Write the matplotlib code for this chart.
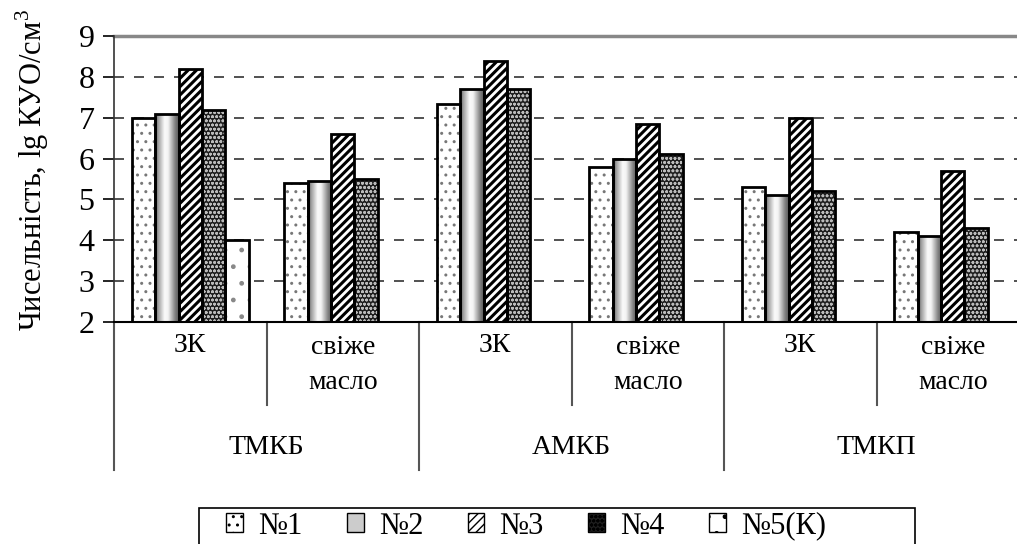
import numpy as np
import matplotlib
matplotlib.use('Agg')
import matplotlib.pyplot as plt
from matplotlib import font_manager
from matplotlib.patches import Patch, Rectangle
import matplotlib.transforms as mtransforms

# pick a Times-like serif that is actually installed
available = {f.name for f in font_manager.fontManager.ttflist}
serif = 'DejaVu Serif'
for cand in ['Times New Roman', 'Tinos', 'Liberation Serif', 'Nimbus Roman', 'FreeSerif', 'PT Serif', 'Noto Serif']:
    if cand in available:
        serif = cand
        break
plt.rcParams['font.family'] = [serif, 'DejaVu Serif']
plt.rcParams['mathtext.fontset'] = 'custom'
plt.rcParams['mathtext.rm'] = serif

# data
groups = ['ТМКБ', 'АМКБ', 'ТМКП']
subcats = ['ЗК', 'свіже\nмасло', 'ЗК', 'свіже\nмасло', 'ЗК', 'свіже\nмасло']
series_names = ['№1', '№2', '№3', '№4', '№5(К)']
s1 = [7.0, 5.4, 7.33, 5.8, 5.3, 4.2]
s2 = [7.1, 5.45, 7.7, 6.0, 5.1, 4.1]
s3 = [8.2, 6.6, 8.4, 6.85, 7.0, 5.7]
s4 = [7.2, 5.5, 7.7, 6.1, 5.2, 4.3]
s5 = [4.0, np.nan, np.nan, np.nan, np.nan, np.nan]
yticks = [2, 3, 4, 5, 6, 7, 8, 9]

W, H = 1017, 544
fig = plt.figure(figsize=(W / 100, H / 100), dpi=100)
ax_left, ax_right, ax_top, ax_bot = 114, 1029, 36, 322
ax = fig.add_axes([ax_left / W, (H - ax_bot) / H, (ax_right - ax_left) / W, (ax_bot - ax_top) / H])

x = np.arange(len(subcats))
bw = 0.153
ymin, ymax = 2, 9


def grad_image(ax, patch):
    x0, y0 = patch.get_x(), patch.get_y()
    w, h = patch.get_width(), patch.get_height()
    t = np.linspace(0, 1, 64)
    prof = np.interp(t, [0, 0.12, 0.4, 0.55, 0.85, 1], [0.35, 0.6, 0.98, 0.95, 0.5, 0.35])
    img = ax.imshow(prof[None, :], cmap='gray', vmin=0, vmax=1, aspect='auto',
                    extent=[x0, x0 + w, y0, y0 + h], zorder=2, interpolation='bilinear')
    img.set_clip_path(patch)


def draw_series(k, vals):
    vals = np.array(vals, dtype=float)
    mask = ~np.isnan(vals)
    xs = x[mask] + (k - 2) * bw
    vs = vals[mask] - ymin
    if k == 0:
        b = ax.bar(xs, vs, bw, bottom=ymin, color='white', edgecolor='#777777', hatch='..', linewidth=0, zorder=2)
    elif k == 1:
        b = ax.bar(xs, vs, bw, bottom=ymin, color='white', linewidth=0, zorder=2)
        for p in b:
            grad_image(ax, p)
    elif k == 2:
        b = ax.bar(xs, vs, bw, bottom=ymin, color='white', edgecolor='black', hatch='////', linewidth=0, zorder=2)
        for p in b:
            p.set_hatch_linewidth(2.2)
    elif k == 3:
        b = ax.bar(xs, vs, bw, bottom=ymin, color='#1e1e1e', edgecolor='#bbbbbb', hatch='oooo', linewidth=0, zorder=2)
        for p in b:
            p.set_hatch_linewidth(0.8)
    else:
        b = ax.bar(xs, vs, bw, bottom=ymin, color='white', edgecolor='#888888', hatch='.', linewidth=0, zorder=2)
    ax.bar(xs, vs, bw, bottom=ymin, fill=False, edgecolor='black', linewidth=2, zorder=3)


for k, vals in enumerate([s1, s2, s3, s4, s5]):
    draw_series(k, vals)

ax.set_xlim(-0.5, len(subcats) - 0.5)
ax.set_ylim(ymin, ymax)
ax.set_yticks(yticks)
ax.set_xticks([])
ax.tick_params(axis='y', direction='out', length=8, width=1.2, labelsize=23, pad=6)
for yv in yticks[1:-1]:
    ax.axhline(yv, color='#333333', linestyle=(0, (6, 6)), linewidth=1.2, zorder=1)
ax.axhline(ymax, color='#888888', linewidth=2.5, zorder=1, clip_on=False)
for sp in ['top', 'right']:
    ax.spines[sp].set_visible(False)
ax.spines['left'].set_linewidth(1.2)
ax.spines['bottom'].set_linewidth(1.5)
ax.spines['left'].set_color('#333333')

# multi-level category axis
tr = mtransforms.blended_transform_factory(ax.transData, ax.transAxes)
ah = ax_bot - ax_top
inner_end = -(405 - ax_bot) / ah
outer_end = -(470 - ax_bot) / ah
for i in range(len(subcats) + 1):
    xb = i - 0.5
    yend = outer_end if i % 2 == 0 else inner_end
    ax.plot([xb, xb], [0, yend], transform=tr, color='#555555', linewidth=1.5, clip_on=False)
for i, lab in enumerate(subcats):
    yc = 365 if '\n' in lab else 345
    ax.text(i, -(yc - ax_bot) / ah, lab, transform=tr, ha='center', va='center',
            fontsize=20, linespacing=1.5)
for g, lab in enumerate(groups):
    ax.text(2 * g + 0.5, -(448 - ax_bot) / ah, lab, transform=tr, ha='center', va='center', fontsize=20)

fig.text(32 / W, (H - 170) / H, 'Чисельність, lg КУО/см$^3$', rotation=90, ha='center', va='center', fontsize=22)

# legend: box drawn separately, entries without frame
fig.patches.append(Rectangle((199 / W, -4 / H), (915 - 199) / W, (544 - 508 + 4) / H, fill=False,
                             edgecolor='black', linewidth=1.2, transform=fig.transFigure, figure=fig))
handles = [
    Patch(facecolor='white', edgecolor='#777777', hatch='..'),
    Patch(facecolor='#cccccc', edgecolor='black'),
    Patch(facecolor='white', edgecolor='black', hatch='////'),
    Patch(facecolor='#1e1e1e', edgecolor='#bbbbbb', hatch='oooo'),
    Patch(facecolor='white', edgecolor='#888888', hatch='.'),
]
leg = fig.legend(handles, series_names, loc='center left', bbox_to_anchor=(226 / W, (544 - 526) / H),
                 ncol=5, fontsize=22, frameon=False, borderaxespad=0, borderpad=0,
                 handlelength=0.55, handleheight=0.55, handletextpad=0.5, columnspacing=1.45)
for h in leg.legend_handles:
    h.set_edgecolor('black')

fig.savefig('out.png', dpi=100)
